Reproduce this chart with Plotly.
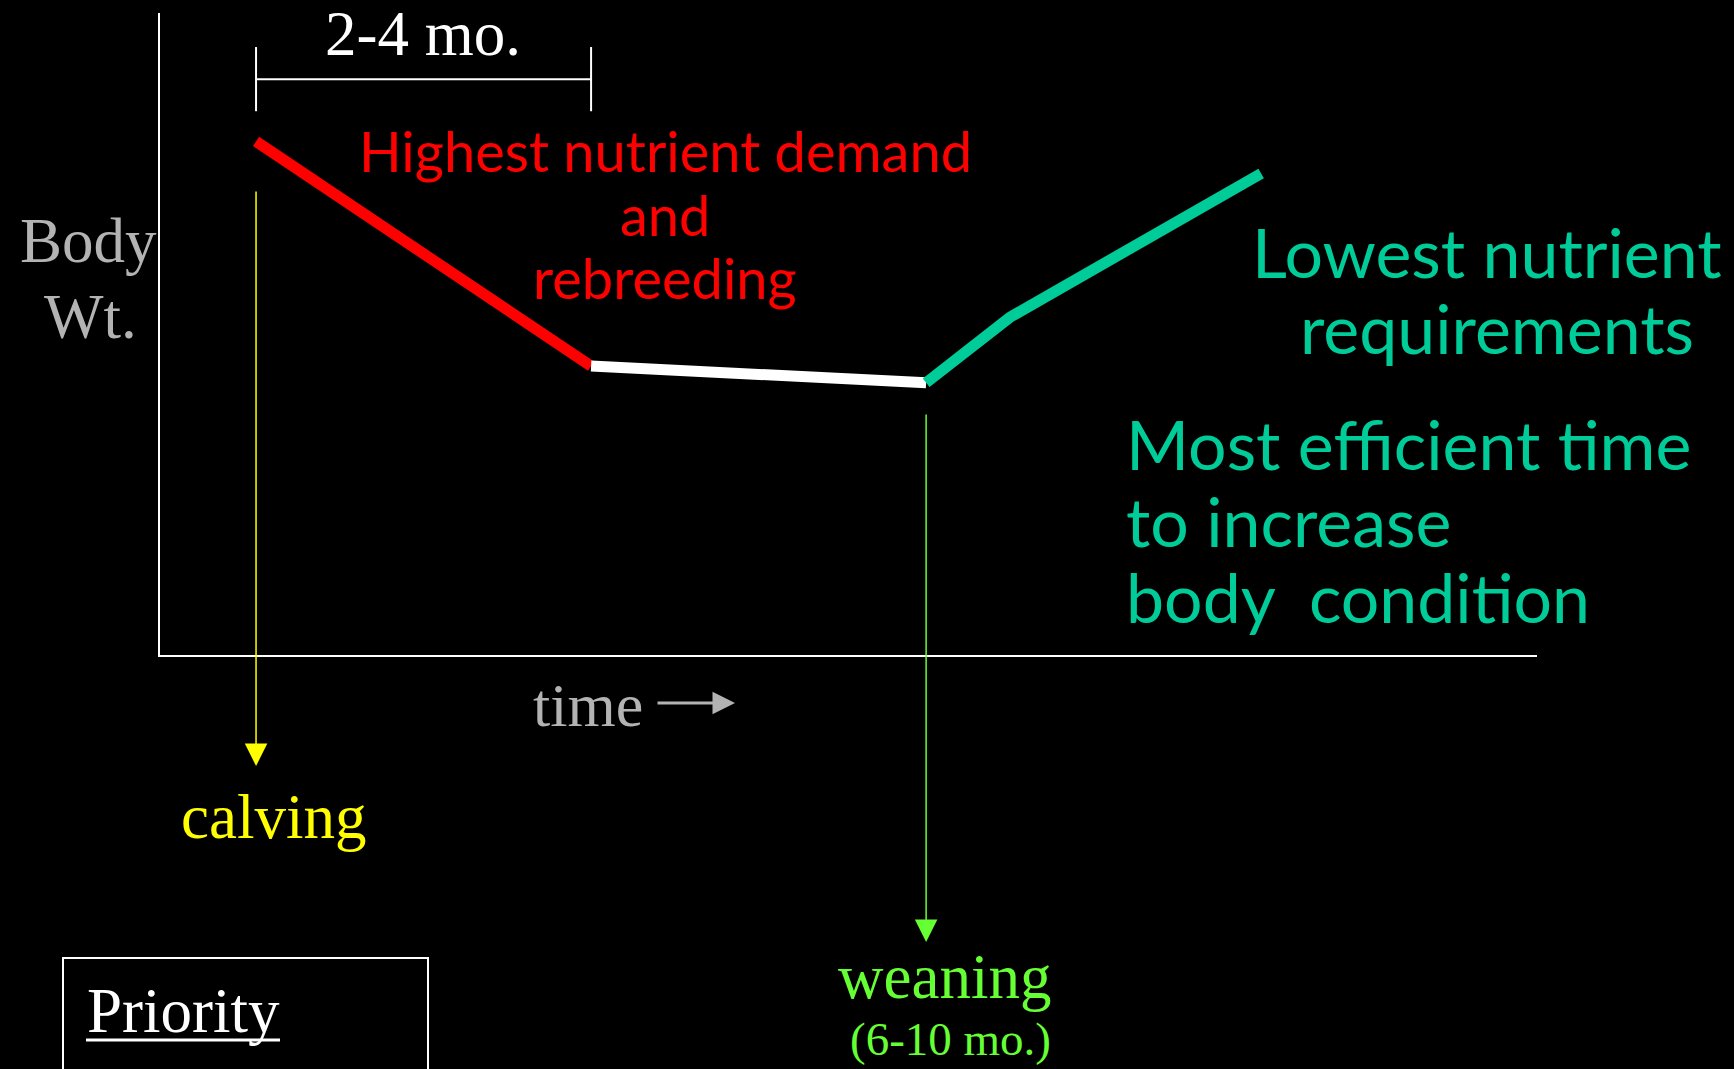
import plotly.graph_objects as go

# ---------------- data ----------------
time_months = [0, 3, 6, 6.75, 9]          # calving, end of 2-4 mo., weaning, kink, end
body_wt = [80, 45, 42.4, 52.6, 75]        # relative body weight
bracket_span = [0, 3]                     # "2-4 mo." bracket, months
bracket_level = 89.7
calving_month = 0
weaning_month = 6

# ---------------- layout geometry ----------------
W, H = 1734, 1069
L, R, T, B = 160, 1734 - 1537, 13, 1069 - 655
PW, PH = W - L - R, H - T - B
X_RANGE = [-0.86, 11.47]
Y_RANGE = [0, 100]


def pp(px, py):
    """pixel -> paper coordinates"""
    return (px - L) / PW, (H - B - py) / PH


SERIF = "Liberation Serif, Times New Roman, serif"
COMIC = "Lato, Comic Sans MS, sans-serif"

fig = go.Figure()

# body weight curve, one trace per coloured segment
red_x, red_y = time_months[0:2], body_wt[0:2]
white_x, white_y = time_months[1:3], body_wt[1:3]
teal_x, teal_y = time_months[2:5], body_wt[2:5]
for xs, ys, c in [(red_x, red_y, "#FF0000"), (white_x, white_y, "#FFFFFF"), (teal_x, teal_y, "#00CC99")]:
    fig.add_trace(go.Scatter(x=xs, y=ys, mode="lines",
                             line=dict(color=c, width=11), hoverinfo="skip"))

# bracket "2-4 mo."
tick_h = 5
bx = [bracket_span[0], bracket_span[0], None, bracket_span[0], bracket_span[1], None, bracket_span[1], bracket_span[1]]
by = [bracket_level + tick_h, bracket_level - tick_h, None, bracket_level, bracket_level, None,
      bracket_level + tick_h, bracket_level - tick_h]
fig.add_trace(go.Scatter(x=bx, y=by, mode="lines", line=dict(color="white", width=2), hoverinfo="skip"))

annotations = []


def txt(text, px, py, size, color, family, xanchor="center"):
    x, y = pp(px, py)
    annotations.append(dict(text=text, x=x, y=y, xref="paper", yref="paper",
                            xanchor=xanchor, yanchor="middle", showarrow=False,
                            font=dict(size=size, color=color, family=family)))


ks = 0.3375
kc = 0.387
RS = 56   # red text size
TS = 68   # teal text size
# serif labels (center y = baseline - k*fs)
txt("2-4 mo.", 423, 55 - ks * 63, 63, "white", SERIF)
txt("Body", 88, 262 - ks * 63, 63, "#B3B3B3", SERIF)
txt("Wt.", 90, 338 - ks * 63, 63, "#B3B3B3", SERIF)
txt("time", 588, 726 - ks * 62, 62, "#B3B3B3", SERIF)
txt("calving", 273, 838 - ks * 63, 63, "#FFFF00", SERIF)
txt("weaning", 944, 998 - ks * 63, 63, "#66FF33", SERIF)
txt("(6-10 mo.)", 950, 1055 - ks * 47, 47, "#66FF33", SERIF)
txt("Priority", 85, 1032 - ks * 63, 63, "white", SERIF, xanchor="left")

# comic labels
txt("Highest nutrient demand", 665, 172 - kc * RS, RS, "#FF0000", COMIC)
txt("and", 665, 236 - kc * RS, RS, "#FF0000", COMIC)
txt("rebreeding", 665, 299 - kc * RS, RS, "#FF0000", COMIC)
txt("Lowest nutrient", 1487, 278 - kc * TS, TS, "#00CC99", COMIC)
txt("requirements", 1497, 354 - kc * TS, TS, "#00CC99", COMIC)
txt("Most efficient time", 1124, 470 - kc * TS, TS, "#00CC99", COMIC, xanchor="left")
txt("to increase", 1124, 547 - kc * TS, TS, "#00CC99", COMIC, xanchor="left")
txt("body\u00a0 condition", 1124, 623 - kc * TS, TS, "#00CC99", COMIC, xanchor="left")

# calving / weaning arrows (head below the axis)
_, y_calv = pp(0, 766)
annotations.append(dict(text="", x=calving_month, xref="x", y=y_calv, yref="paper",
                        showarrow=True, ax=0, ay=190 - 766, arrowhead=2, arrowwidth=1.5,
                        arrowsize=3, arrowcolor="#FFFF00"))
_, y_wean = pp(0, 942)
annotations.append(dict(text="", x=weaning_month, xref="x", y=y_wean, yref="paper",
                        showarrow=True, ax=0, ay=413 - 942, arrowhead=2, arrowwidth=1.5,
                        arrowsize=3, arrowcolor="#66FF33"))
# time arrow
xt, yt = pp(735, 703)
annotations.append(dict(text="", x=xt, y=yt, xref="paper", yref="paper", showarrow=True,
                        ax=-(735 - 656), ay=0, arrowhead=2, arrowwidth=3, arrowsize=1.5,
                        arrowcolor="#B3B3B3"))

# priority box and its underline
bx0, by0 = pp(63, 1085)
bx1, by1 = pp(428, 958)
ux0, uy = pp(86, 1040)
ux1, _ = pp(280, 1040)
shapes = [dict(type="rect", xref="paper", yref="paper", x0=bx0, y0=by0, x1=bx1, y1=by1,
               line=dict(color="white", width=2), fillcolor="rgba(0,0,0,0)"),
          dict(type="line", xref="paper", yref="paper", x0=ux0, y0=uy, x1=ux1, y1=uy,
               line=dict(color="white", width=3))]

fig.update_layout(
    width=W, height=H, margin=dict(l=L, r=R, t=T, b=B, pad=0),
    paper_bgcolor="black", plot_bgcolor="black",
    showlegend=False, hovermode=False,
    xaxis=dict(range=X_RANGE, showgrid=False, zeroline=False, showticklabels=False, ticks="",
               showline=True, linecolor="white", linewidth=2, fixedrange=True),
    yaxis=dict(range=Y_RANGE, showgrid=False, zeroline=False, showticklabels=False, ticks="",
               showline=True, linecolor="white", linewidth=2, fixedrange=True),
    annotations=annotations, shapes=shapes,
)

fig.write_html("out.html", config={"displayModeBar": False},
               post_script="document.body.style.margin='0';document.body.style.padding='0';"
                           "document.body.style.background='black';"
                           "document.body.style.overflow='hidden';")
